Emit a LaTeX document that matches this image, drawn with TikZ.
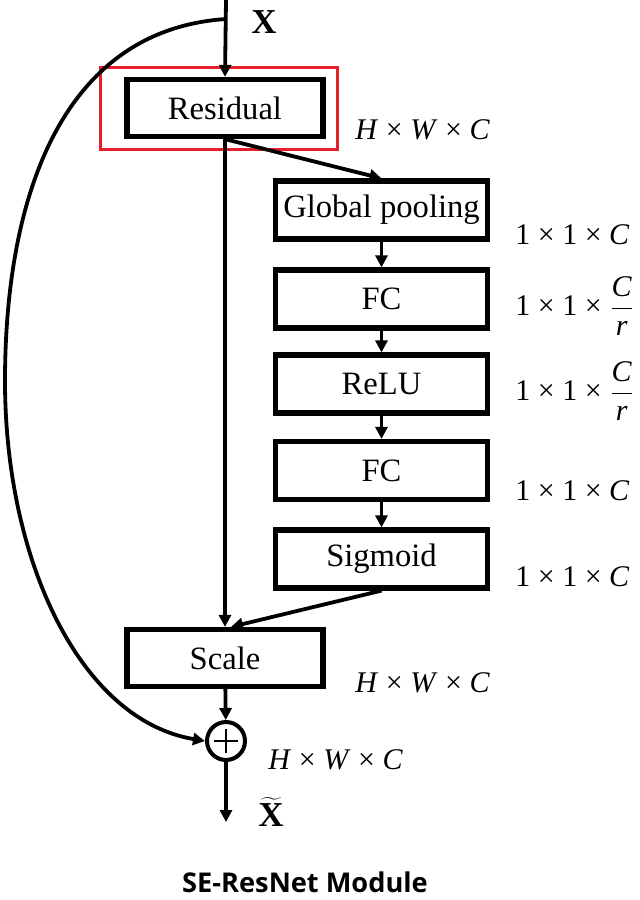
\documentclass[tikz,border=0pt]{standalone}
\usepackage{fontspec}
\setmainfont{Liberation Serif}
\newfontfamily\titlefont{Open Sans}
\usetikzlibrary{arrows.meta}
\definecolor{hlred}{RGB}{230,32,42}
\begin{document}
\begin{tikzpicture}[x=0.5pt,y=-0.5pt,
  blk/.style={draw,line width=2.6pt,minimum width=98pt,minimum height=28.5pt,inner sep=0pt,font=\fontsize{16.3}{18}\selectfont},
  sidebox/.style={blk,minimum width=106pt,minimum height=29pt},
  conn/.style={line width=1.9pt,-{Triangle[length=6pt,width=6pt]}},
  dimlbl/.style={font=\fontsize{15}{17}\selectfont,inner sep=0pt},
  sumnode/.style={draw,circle,line width=2pt,minimum size=19pt,inner sep=0pt,
    path picture={\draw[line width=0.7pt] ([xshift=-6pt]path picture bounding box.center) -- ([xshift=6pt]path picture bounding box.center)
      ([yshift=-6pt]path picture bounding box.center) -- ([yshift=6pt]path picture bounding box.center);}}
]
\useasboundingbox (0,0) rectangle (640,900);

% main column
\coordinate (in) at (226,0);
\coordinate (skipstart) at (226,19);
\node[blk] (res) at (225,108) {Residual};
\node[blk] (scale) at (225,658) {Scale};
\node[sumnode] (sum) at (226,741) {};
\coordinate (out) at (226,822);

% highlight frame round the residual block
\draw[hlred,line width=1.5pt] (100,67) rectangle (337,149);

% squeeze-excitation branch
\node[sidebox] (gp) at (381.5,210) {Global pooling};
\node[sidebox] (fc1) at (381.5,299) {FC};
\node[sidebox] (relu) at (381.5,384) {ReLU};
\node[sidebox] (fc2) at (381.5,470.5) {FC};
\node[sidebox] (sig) at (381.5,559) {Sigmoid};

% input / output symbols
\node[font=\fontsize{17.5}{19}\selectfont\bfseries] (xin) at (264,22) {X};
\node[font=\fontsize{17.5}{19}\selectfont\bfseries,inner sep=0pt] (xout) at (271,812) {$\widetilde{\mbox{\bfseries X}}$};

% tensor shapes
\node[dimlbl,anchor=west] (d0) at (355,130) {\textit{H} × \textit{W} × \textit{C}};
\node[dimlbl,anchor=west] (d1) at (515,235) {1 × 1 × \textit{C}};
\node[dimlbl,anchor=west] (d2) at (515,306) {1 × 1 × $\displaystyle\frac{\mbox{\itshape C}}{\mbox{\itshape r}}$};
\node[dimlbl,anchor=west] (d3) at (515,391) {1 × 1 × $\displaystyle\frac{\mbox{\itshape C}}{\mbox{\itshape r}}$};
\node[dimlbl,anchor=west] (d4) at (515,491) {1 × 1 × \textit{C}};
\node[dimlbl,anchor=west] (d5) at (515,577) {1 × 1 × \textit{C}};
\node[dimlbl,anchor=west] (d6) at (355,683) {\textit{H} × \textit{W} × \textit{C}};
\node[dimlbl,anchor=west] (d7) at (268,760) {\textit{H} × \textit{W} × \textit{C}};

% caption
\node[font=\titlefont\fontsize{13.6}{16}\selectfont\bfseries] (cap) at (305,882) {SE-ResNet Module};

% connectors
\draw[conn] (in) -- (res.north);
\draw[conn] (res.south) -- (scale.north);
\draw[conn] (res.south) -- (gp.north);
\draw[conn] (gp) -- (fc1);
\draw[conn] (fc1) -- (relu);
\draw[conn] (relu) -- (fc2);
\draw[conn] (fc2) -- (sig);
\draw[conn] (sig.south) -- ([xshift=3pt]scale.north);
\draw[conn] (scale) -- (sum);
\draw[conn] (sum) -- (out);
\draw[conn] (skipstart) .. controls (60,30) and (5,200) .. (5,381)
  .. controls (5,560) and (80,720) .. (sum.west);
\end{tikzpicture}
\end{document}
